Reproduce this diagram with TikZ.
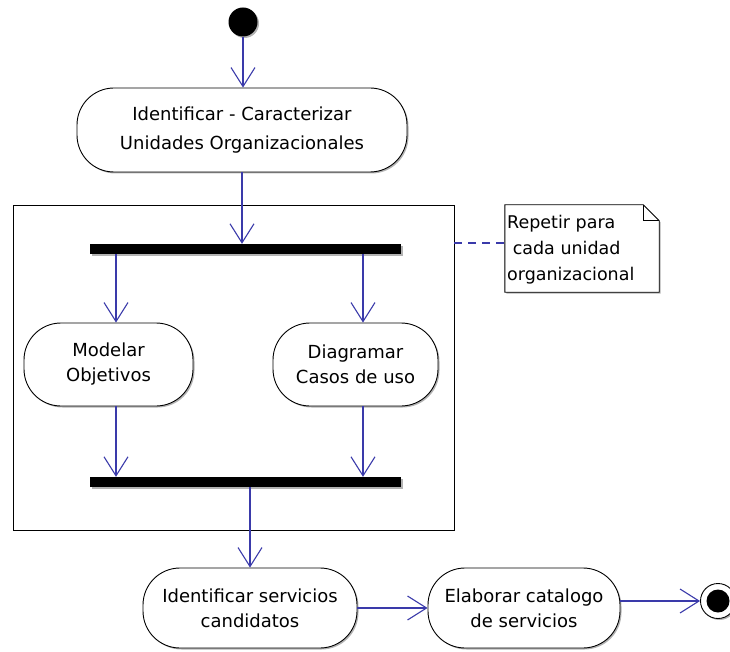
\documentclass[tikz,border=0pt]{standalone}
\usepackage{fontspec}
\setmainfont{DejaVu Sans}
\usetikzlibrary{arrows.meta,shadows,calc}
\definecolor{flowblue}{RGB}{58,58,170}
\begin{document}
\begin{tikzpicture}[x=1pt,y=-1pt,
  softshadow/.style={drop shadow={shadow xshift=1.5pt,shadow yshift=-1.5pt,fill=black!50,opacity=0.6}},
  activity/.style={draw=black, line width=0.9pt, fill=white, rounded corners=37pt, inner sep=0pt,
    align=center, font=\fontsize{18}{25}\selectfont, softshadow},
  syncbar/.style={fill=black, draw=none, inner sep=0pt, minimum width=311pt, minimum height=10pt, softshadow},
  flow/.style={draw=flowblue, line width=1.1pt, -{Straight Barb[length=19pt,width=24pt,line width=1.1pt]}},
  notelink/.style={draw=flowblue, line width=1.1pt, dash pattern=on 8pt off 6pt},
  framebox/.style={draw=black, line width=0.8pt, inner sep=0pt, minimum width=441pt, minimum height=325pt},
  notetext/.style={inner sep=0pt, align=left, anchor=west, font=\fontsize{17.5}{26}\selectfont},
  startdot/.style={circle, fill=black, inner sep=0pt, minimum size=29pt, softshadow},
  endring/.style={circle, draw=black, line width=0.9pt, fill=white, inner sep=0pt, minimum size=35pt, softshadow},
  enddot/.style={circle, fill=black, inner sep=0pt, minimum size=23pt}
]
\useasboundingbox (0,0) rectangle (730,652);

% frame (loop region)
\node[framebox] (frame) at (233.5,367.5) {};

% nodes
\node[startdot] (start) at (243,22) {};
\node[activity, minimum width=330pt, minimum height=84pt, font=\fontsize{18}{29}\selectfont] (act1) at (242,130)
  {Identificar - Caracterizar\\Unidades Organizacionales};
\node[syncbar] (fork) at (245.5,249) {};
\node[activity, minimum width=169pt, minimum height=83pt] (mod) at (108.5,364.5) {Modelar\\Objetivos};
\node[activity, minimum width=165pt, minimum height=83pt] (diag) at (355.5,364.5) {Diagramar\\Casos de uso};
\node[syncbar] (join) at (245.5,482) {};
\node[activity, minimum width=214pt, minimum height=80pt] (act3) at (250,608) {Identificar servicios\\candidatos};
\node[activity, minimum width=192pt, minimum height=80pt] (act4) at (524,608) {Elaborar catalogo\\de servicios};
\node[endring] (end) at (718,601) {};
\node[enddot] (endin) at (end.center) {};

% note
\node[minimum width=154pt, minimum height=87pt, inner sep=0pt] (note) at (582,248.5) {};
\draw[black, line width=0.9pt, fill=white, softshadow]
  (note.south west) -- (note.north west) -- ([xshift=-16pt]note.north east)
  -- ([yshift=-16pt]note.north east) -- (note.south east) -- cycle;
\draw[black, line width=0.8pt]
  ([xshift=-16pt]note.north east) -- ([xshift=-16pt,yshift=-16pt]note.north east) -- ([yshift=-16pt]note.north east);
\node[notetext] (notetxt) at (507,250) {Repetir para\\~cada unidad\\organizacional};

% helper coordinates
\coordinate (xl) at (116,0);
\coordinate (xr) at (363,0);
\coordinate (yn) at (0,243);

% connectors
\draw[flow] (start.south) -- (start.south |- act1.north);
\draw[flow] (act1.south) -- (act1.south |- fork.north);
\draw[flow] (fork.south -| xl) -- (mod.north -| xl);
\draw[flow] (fork.south -| xr) -- (diag.north -| xr);
\draw[flow] (mod.south -| xl) -- (join.north -| xl);
\draw[flow] (diag.south -| xr) -- (join.north -| xr);
\draw[flow] (join.south -| act3.north) -- (act3.north);
\draw[flow] (act3.east) -- (act4.west);
\draw[flow] (act4.east |- end.west) -- (end.west);
\draw[notelink] (frame.east |- yn) -- (note.west |- yn);
\end{tikzpicture}
\end{document}
